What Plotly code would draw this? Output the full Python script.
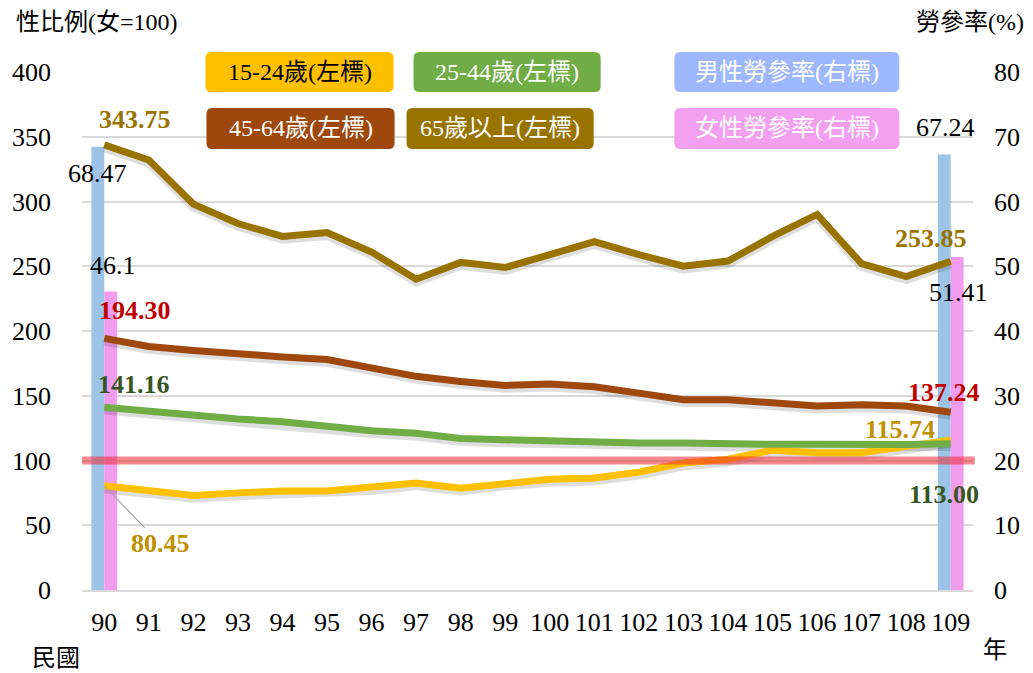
import plotly.graph_objects as go

years = ["90", "91", "92", "93", "94", "95", "96", "97", "98", "99",
         "100", "101", "102", "103", "104", "105", "106", "107", "108", "109"]

age_15_24 = [80.45, 77, 73, 75, 76.5, 76.5, 79, 82.6, 78.6, 82.6,
             85.5, 86.5, 91, 98, 101, 108, 106, 106, 110.5, 115.74]
age_25_44 = [141.16, 138, 135, 132, 130, 126.6, 123, 121, 117, 116,
             115, 115, 113.5, 113.5, 112.7, 112.5, 112.5, 112.2, 112.3, 113.00]
age_45_64 = [194.30, 188, 185, 182, 180, 178, 171, 165, 161, 158,
             159, 157, 152, 147, 147, 144, 142, 143, 142, 137.24]
age_65_up = [343.75, 332, 298, 283, 273, 276, 261, 240, 253, 249,
             259, 269, 259, 250, 254, 273, 290, 252, 242, 253.85]

male_lfpr = [68.47] + [None] * 18 + [67.24]
female_lfpr = [46.1] + [None] * 18 + [51.41]

line_names = ["15-24歲(左標)", "25-44歲(左標)", "45-64歲(左標)", "65歲以上(左標)"]
bar_names = ["男性勞參率(右標)", "女性勞參率(右標)"]

FONT = "Liberation Serif, 'Times New Roman', 'Noto Sans CJK TC', serif"
CJK = "'Liberation Serif', 'Noto Sans CJK TC', serif"

line_colors = ["#FFC000", "#70AD47", "#9E480E", "#997300"]
bar_colors = ["#9DC3E6", "#F29CF0"]

fig = go.Figure()

# bars on the right axis (primary 'y', drawn underneath)
for name, vals, col in zip(bar_names, [male_lfpr, female_lfpr], bar_colors):
    fig.add_trace(go.Bar(x=years, y=vals, name=name, marker=dict(color=col, line=dict(width=0)),
                         yaxis="y", showlegend=False))

series = [age_15_24, age_25_44, age_45_64, age_65_up]

# soft drop shadow under each line (same data, nudged down slightly)
for vals in series:
    fig.add_trace(go.Scatter(x=years, y=[v - 2.2 for v in vals], mode="lines", hoverinfo="skip",
                             line=dict(color="rgba(0,0,0,0.13)", width=9), yaxis="y2",
                             showlegend=False))

# lines on the left axis (overlay 'y2', drawn on top)
for name, vals, col in zip(line_names, series, line_colors):
    fig.add_trace(go.Scatter(x=years, y=vals, name=name, mode="lines",
                             line=dict(color=col, width=7), yaxis="y2", showlegend=False))

PL, PR, PT, PB = 78, 60, 72, 83
W, H = 1033, 673
pw, ph = W - PL - PR, H - PT - PB


def px2paper(x, y):
    return (x - PL) / pw, (H - PB - y) / ph


def rounded_rect(x0, y0, x1, y1, r=6):
    ax0, ay0 = px2paper(x0, y1)
    ax1, ay1 = px2paper(x1, y0)
    rx, ry = r / pw, r / ph
    return (f"M {ax0+rx},{ay0} L {ax1-rx},{ay0} Q {ax1},{ay0} {ax1},{ay0+ry} "
            f"L {ax1},{ay1-ry} Q {ax1},{ay1} {ax1-rx},{ay1} L {ax0+rx},{ay1} "
            f"Q {ax0},{ay1} {ax0},{ay1-ry} L {ax0},{ay0+ry} Q {ax0},{ay0} {ax0+rx},{ay0} Z")


shapes = []
annotations = []

# reference line at 100 (sex ratio parity)
shapes.append(dict(type="line", xref="paper", x0=0, x1=1.002, yref="y2", y0=100, y1=100,
                   line=dict(color="rgba(236,40,52,0.55)", width=8), layer="above"))

# legend boxes
legend_boxes = [
    (line_names[0], 202, 52, 391, 92, "#FFC000", "#000000"),
    (line_names[1], 411, 52, 599, 92, "#70AD47", "#ffffff"),
    (bar_names[0], 673, 52, 899, 92, "#9DB8FF", "#ffffff"),
    (line_names[2], 203, 108, 392, 149, "#9E480E", "#ffffff"),
    (line_names[3], 404, 108, 592, 149, "#997300", "#ffffff"),
    (bar_names[1], 673, 108, 899, 149, "#F4A0F0", "#ffffff"),
]
for text, x0, y0, x1, y1, bg, fc in legend_boxes:
    shapes.append(dict(type="path", xref="paper", yref="paper", path=rounded_rect(x0, y0, x1, y1),
                       fillcolor=bg, line=dict(width=0), layer="above"))
    cx, cy = px2paper((x0 + x1) / 2, (y0 + y1) / 2)
    annotations.append(dict(x=cx, y=cy, xref="paper", yref="paper", text=text, showarrow=False,
                            font=dict(family=CJK, size=24, color=fc), xanchor="center", yanchor="middle"))

# axis titles
for text, px, py, anchor in [("性比例(女=100)", 10, 22, "left"), ("勞參率(%)", 1026, 22, "right"),
                             ("民國", 26, 658, "left"), ("年", 995, 650, "center")]:
    x, y = px2paper(px, py)
    annotations.append(dict(x=x, y=y, xref="paper", yref="paper", text=text, showarrow=False,
                            font=dict(family=CJK, size=24, color="#000"), xanchor=anchor, yanchor="middle"))

# data labels (x given as category index on the category axis)
first, last = 0, len(years) - 1
LS = 26


def lab(xi, y, text, color, dx, dy, yref="y2", bold=True):
    annotations.append(dict(x=xi, y=y, xref="x", yref=yref, text=f"<b>{text}</b>" if bold else text,
                            showarrow=False, xshift=dx, yshift=dy,
                            font=dict(family=FONT, size=LS, color=color)))


lab(first, age_65_up[0], f"{age_65_up[0]:.2f}", "#997300", 31, 25)
lab(first, age_45_64[0], f"{age_45_64[0]:.2f}", "#C00000", 31, 28)
lab(first, age_25_44[0], f"{age_25_44[0]:.2f}", "#375623", 30, 23)
lab(last, age_65_up[-1], f"{age_65_up[-1]:.2f}", "#997300", -20, 23)
lab(last, age_45_64[-1], f"{age_45_64[-1]:.2f}", "#C00000", -7, 20)
lab(last, age_15_24[-1], f"{age_15_24[-1]:.2f}", "#BF9000", -51, 11)
lab(last, age_25_44[-1], f"{age_25_44[-1]:.2f}", "#375623", -7, -51)
lab(first, male_lfpr[0], f"{male_lfpr[0]:.2f}", "#000000", -7, -27, yref="y", bold=False)
lab(first, female_lfpr[0], f"{female_lfpr[0]}", "#000000", 9, 26, yref="y", bold=False)
lab(last, male_lfpr[-1], f"{male_lfpr[-1]:.2f}", "#000000", -5, 27, yref="y", bold=False)
lab(last, female_lfpr[-1], f"{female_lfpr[-1]:.2f}", "#000000", 8, -35, yref="y", bold=False)

annotations.append(dict(x=first, y=age_15_24[0], xref="x", yref="y2",
                        text=f"<b>{age_15_24[0]:.2f}</b>", showarrow=True, arrowhead=0,
                        arrowwidth=1.2, arrowcolor="#a6a6a6", ax=56, ay=58,
                        font=dict(family=FONT, size=LS, color="#BF9000")))

fig.update_layout(
    width=W, height=H,
    margin=dict(l=PL, r=PR, t=PT, b=PB),
    paper_bgcolor="white", plot_bgcolor="white",
    barmode="group", bargap=0.42, bargroupgap=0,
    font=dict(family=FONT, size=26, color="#000"),
    xaxis=dict(type="category", categoryorder="array", categoryarray=years,
               range=[-0.5, len(years) - 0.5], autorange=False, tickangle=0,
               showgrid=False, showline=True, linecolor="#d9d9d9", linewidth=1.5,
               ticks="", tickfont=dict(size=26), ticklabelstandoff=8),
    yaxis=dict(side="right", range=[0, 80], dtick=10, showgrid=True, gridcolor="#d9d9d9",
               gridwidth=1.5, zeroline=False, showline=False, ticks="",
               tickfont=dict(size=26), ticklabelstandoff=20),
    yaxis2=dict(side="left", overlaying="y", range=[0, 400], dtick=50, showgrid=False,
                zeroline=False, showline=False, ticks="", tickfont=dict(size=26),
                ticklabelstandoff=30),
    shapes=shapes,
    annotations=annotations,
    showlegend=False,
)

fig.write_html("out.html", config={"displayModeBar": False},
               post_script="document.body.style.margin='0';document.body.style.padding='0';")
